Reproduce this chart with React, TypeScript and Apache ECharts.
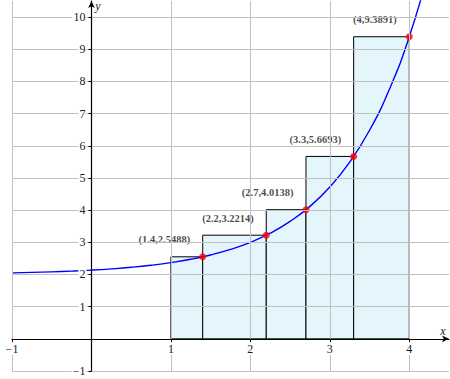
import React, { useEffect, useRef } from "react";
import * as echarts from "echarts";

// Curve samples
const curveX = [-1, -0.75, -0.5, -0.25, 0, 0.25, 0.5, 0.75, 1, 1.25, 1.5, 1.75, 2, 2.25, 2.5, 2.75, 3, 3.25, 3.5, 3.75, 4, 4.25];
const curveY = [2.05, 2.064, 2.082, 2.105, 2.135, 2.174, 2.223, 2.287, 2.368, 2.472, 2.607, 2.779, 3.0, 3.284, 3.649, 4.117, 4.718, 5.49, 6.482, 7.755, 9.389, 11.488];

// Rectangles
const rectLeft = [1, 1.4, 2.2, 2.7, 3.3];
const rectRight = [1.4, 2.2, 2.7, 3.3, 4];
const rectHeight = [2.5488, 3.2214, 4.0138, 5.6693, 9.3891];

// Marked points
const pointX = [1.4, 2.2, 2.7, 3.3, 4];
const pointY = [2.5488, 3.2214, 4.0138, 5.6693, 9.3891];

// Ticks
const xTicks = [-1, 1, 2, 3, 4];
const yTicks = [-1, 1, 2, 3, 4, 5, 6, 7, 8, 9, 10];
const xGrid = [-1, 1, 2, 3, 4];
const yGrid = [-1, 1, 2, 3, 4, 5, 6, 7, 8, 9, 10];

const X_MIN = -1, X_MAX = 4.5, Y_MIN = -1, Y_MAX = 10.5;
const W = 450, H = 379;
const G_LEFT = 12, G_RIGHT = 1, G_TOP = 1, G_BOTTOM = 8;

const SERIF = "'Liberation Serif', 'DejaVu Serif', serif";
const fmt = (v: number) => String(v).replace("-", "\u2212");

export default function App() {
  const ref = useRef<HTMLDivElement>(null);
  useEffect(() => {
    if (!ref.current) return;
    const chart = echarts.init(ref.current, undefined, { renderer: "svg" });
    const gridColor = "#c0c0c0";
    const gw = W - G_LEFT - G_RIGHT;
    const gh = H - G_TOP - G_BOTTOM;
    // move the axes onto the zero lines
    const xAxisOffset = -((0 - Y_MIN) / (Y_MAX - Y_MIN)) * gh;
    const yAxisOffset = -((0 - X_MIN) / (X_MAX - X_MIN)) * gw;
    const labelStyle = {
      formatter: fmt,
      fontFamily: SERIF,
      fontSize: 12,
      color: "#1a1a1a",
      backgroundColor: "#ffffff",
      padding: [0, 1, 0, 1],
    };
    chart.setOption({
      animation: false,
      grid: { left: G_LEFT, right: G_RIGHT, top: G_TOP, bottom: G_BOTTOM, outerBoundsMode: "none", containLabel: false },
      xAxis: {
        type: "value",
        min: X_MIN,
        max: X_MAX,
        interval: 1,
        offset: xAxisOffset,
        z: 10,
        axisLine: {
          onZero: false,
          symbol: ["none", "arrow"],
          symbolSize: [5, 7],
          lineStyle: { color: "#000", width: 1.2 },
        },
        axisTick: { customValues: xTicks, length: 3, inside: false, lineStyle: { color: "#000" } },
        axisLabel: { ...labelStyle, customValues: xTicks, margin: 4 },
        splitLine: { show: false },
      },
      yAxis: {
        type: "value",
        min: Y_MIN,
        max: Y_MAX,
        interval: 1,
        offset: yAxisOffset,
        z: 10,
        axisLine: {
          onZero: false,
          symbol: ["none", "arrow"],
          symbolSize: [5, 7],
          lineStyle: { color: "#000", width: 1.2 },
        },
        axisTick: { customValues: yTicks, length: 3, inside: false, lineStyle: { color: "#000" } },
        axisLabel: { ...labelStyle, customValues: yTicks, margin: 5 },
        splitLine: { show: false },
      },
      graphic: [
        {
          type: "text",
          x: 443,
          y: 331,
          style: { text: "x", font: `italic 12px ${SERIF}`, fill: "#222", textAlign: "center", textVerticalAlign: "middle" },
        },
        {
          type: "text",
          x: 98,
          y: 6,
          style: { text: "y", font: `italic 12px ${SERIF}`, fill: "#222", textAlign: "center", textVerticalAlign: "middle" },
        },
      ],
      series: [
        {
          type: "line",
          data: [],
          z: 0,
          silent: true,
          markLine: {
            silent: true,
            symbol: ["none", "none"],
            label: { show: false },
            lineStyle: { color: gridColor, width: 1, type: "solid" },
            emphasis: { disabled: true },
            data: [
              ...xGrid.map((v) => ({ xAxis: v })),
              ...yGrid.map((v) => ({ yAxis: v })),
            ],
          },
        },
        {
          type: "custom",
          z: 2,
          data: rectLeft.map((l, i) => [l, rectRight[i], rectHeight[i]]),
          encode: { x: [0, 1], y: 2 },
          renderItem: (params: any, api: any) => {
            const p0 = api.coord([api.value(0), api.value(2)]);
            const p1 = api.coord([api.value(1), 0]);
            return {
              type: "rect",
              shape: { x: p0[0], y: p0[1], width: p1[0] - p0[0], height: p1[1] - p0[1] },
              style: { fill: "#e4f5fb", stroke: "#000", lineWidth: 1 },
            };
          },
        },
        {
          type: "line",
          z: 3,
          data: curveX.map((x, i) => [x, curveY[i]]),
          smooth: true,
          symbol: "none",
          clip: true,
          lineStyle: { color: "#0000ff", width: 1.4 },
        },
        {
          type: "scatter",
          z: 4,
          data: pointX.map((x, i) => [x, pointY[i]]),
          symbolSize: 7,
          itemStyle: { color: "#ff0000" },
          label: {
            show: true,
            position: "left",
            offset: [-4, -17],
            formatter: (p: any) => `(${p.value[0]},${p.value[1]})`,
            fontFamily: SERIF,
            fontWeight: "bold",
            fontSize: 10.5,
            color: "#1a1a1a",
          },
        },
      ],
    });
    return () => chart.dispose();
  }, []);
  return <div ref={ref} style={{ position: "absolute", left: 0, top: 0, width: W, height: H }} />;
}
